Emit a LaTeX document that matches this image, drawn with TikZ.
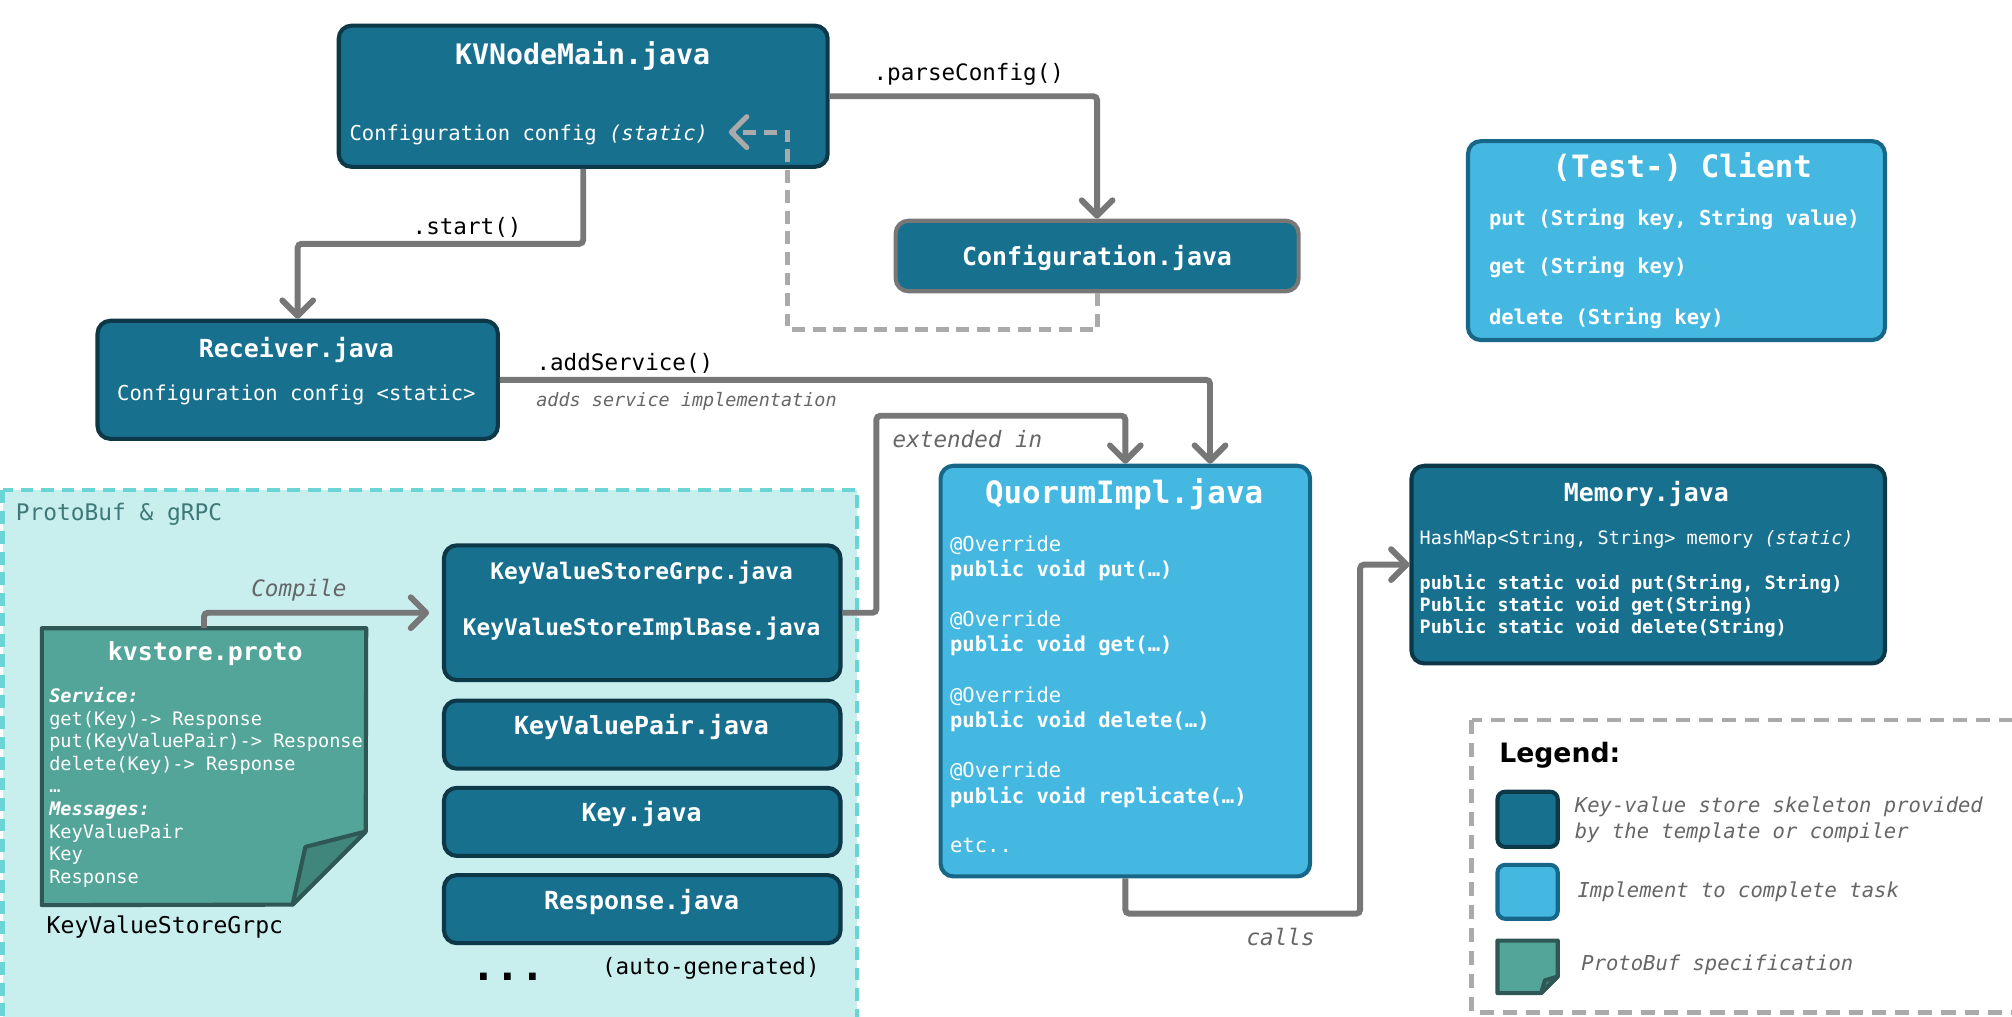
\documentclass[tikz,border=0pt]{standalone}
\usepackage{fontspec}
\setmainfont{DejaVu Sans Mono}
\newfontfamily\legendfont{DejaVu Sans}
\usetikzlibrary{arrows.meta,fit,calc}

\definecolor{darkfill}{HTML}{18708F}
\definecolor{darkline}{HTML}{0D3848}
\definecolor{lightfill}{HTML}{45B8E2}
\definecolor{lightline}{HTML}{176888}
\definecolor{notefill}{HTML}{53A59A}
\definecolor{noteline}{HTML}{2E5755}
\definecolor{notefold}{HTML}{40867C}
\definecolor{pbfill}{HTML}{C8EEEE}
\definecolor{pbline}{HTML}{6BD4D4}
\definecolor{pbtext}{HTML}{3E7878}
\definecolor{conngray}{HTML}{777777}
\definecolor{backgray}{HTML}{AAAAAA}
\definecolor{lblgray}{HTML}{666666}

\tikzset{
  box/.style={rounded corners=5pt, line width=1.6pt, inner sep=0pt},
  darkbox/.style={box, draw=darkline, fill=darkfill},
  lightbox/.style={box, draw=lightline, fill=lightfill},
  txt/.style={inner sep=0pt, text height=0.75em, text depth=0.2em},
  wtxt/.style={txt, text=white},
  ttl/.style={wtxt, yshift=-1pt},
  conn/.style={draw=conngray, line width=2.3pt, rounded corners=1.5pt, -{Straight Barb[length=6pt,width=12pt,round]}},
  backconn/.style={draw=backgray, line width=2pt, dash pattern=on 5pt off 3pt, -{Straight Barb[length=6pt,width=12pt,round]}},
  lbl/.style={txt, text=black, font=\fontsize{8.8}{10}\selectfont},
  ilbl/.style={txt, text=lblgray, font=\itshape\fontsize{8.8}{10}\selectfont},
  notepage/.style={draw=noteline, fill=notefill, line width=1.6pt, line join=round},
  notecorner/.style={draw=noteline, fill=notefold, line width=1.6pt, line join=round}
}

\begin{document}
\begin{tikzpicture}[x=0.5pt,y=-0.5pt]
\useasboundingbox (0,0) rectangle (1568,792);

% protobuf area and legend frame
\draw[pbline, fill=pbfill, line width=1.8pt, dash pattern=on 5pt off 3pt] (2,382) rectangle (668,800);
\node[txt, anchor=west, text=pbtext, font=\fontsize{8.9}{10}\selectfont] (pbtitle) at (12,400) {ProtoBuf \& gRPC};
\draw[backgray, line width=1.8pt, dash pattern=on 5.5pt off 3.5pt] (1147,561) rectangle (1580,789);

% main
\node[darkbox, fit={(264,20) (645,130)}] (kvmain) {};
\node[ttl, font=\bfseries\fontsize{11}{13}\selectfont] (kvmainname) at (454,43) {KVNodeMain.java};
\node[wtxt, anchor=west, font=\fontsize{8}{10}\selectfont] (kvmaincfg) at (272,104) {Configuration config \textit{(static)}};

\node[darkbox, draw=conngray, fit={(698,172) (1012,227)}] (cfg) {};
\node[ttl, font=\bfseries\fontsize{9.7}{12}\selectfont] (cfgname) at (cfg.center) {Configuration.java};

\node[darkbox, fit={(76,250) (388,342)}] (recv) {};
\node[ttl, font=\bfseries\fontsize{9.7}{12}\selectfont] (recvname) at (231,271) {Receiver.java};
\node[wtxt, font=\fontsize{8}{10}\selectfont] (recvcfg) at (231,307) {Configuration config <static>};

% client
\node[lightbox, fit={(1144,110) (1469,265)}] (client) {};
\node[ttl, font=\bfseries\fontsize{12}{14}\selectfont] (clientname) at (1311,131) {(Test-) Client};
\foreach \call/\y [count=\i] in {{put (String key, String value)}/170, {get (String key)}/208, {delete (String key)}/247}
  \node[wtxt, anchor=west, font=\bfseries\fontsize{8}{10}\selectfont] (clientcall\i) at (1160,\y) {\call};

% memory
\node[darkbox, fit={(1100,363) (1469,517)}] (mem) {};
\node[ttl, font=\bfseries\fontsize{9.7}{12}\selectfont] (memname) at (1283,383) {Memory.java};
\node[wtxt, anchor=west, font=\fontsize{7.2}{9}\selectfont] (memmap) at (1106,419) {HashMap<String, String> memory \textit{(static)}};
\foreach \call/\y [count=\i] in {{public static void put(String, String)}/454, {Public static void get(String)}/471, {Public static void delete(String)}/488}
  \node[wtxt, anchor=west, font=\bfseries\fontsize{7.2}{9}\selectfont] (memcall\i) at (1106,\y) {\call};

% quorum
\node[lightbox, fit={(733,363) (1021,683)}] (quorum) {};
\node[ttl, font=\bfseries\fontsize{12}{14}\selectfont] (quorumname) at (876,385) {QuorumImpl.java};
\foreach \meth [count=\i from 0] in {put, get, delete, replicate} {
  \node[wtxt, anchor=west, font=\fontsize{8}{10}\selectfont] (override\i) at (740,424+58.9*\i) {@Override};
  \node[wtxt, anchor=west, font=\bfseries\fontsize{8}{10}\selectfont] (method\i) at (740,443.6+58.9*\i) {public void \meth(…)};
}
\node[wtxt, anchor=west, font=\fontsize{8}{10}\selectfont] (etc) at (740,659) {etc..};

% proto file
\node[fit={(33,490) (285,705)}, inner sep=0pt] (note) {};
\draw[notepage] (note.north west) -- (note.north east) -- (285,648) -- (228,705) -- (note.south west) -- cycle;
\draw[notecorner] (228,705) -- (238,660) -- (285,648) -- cycle;
\node[ttl, font=\bfseries\fontsize{9.7}{12}\selectfont] (notename) at (160,507) {kvstore.proto};
\foreach \entry [count=\i from 0] in {\textbf{\textit{Service:}}, get(Key)-> Response, put(KeyValuePair)-> Response, delete(Key)-> Response, …, \textbf{\textit{Messages:}}, KeyValuePair, Key, Response}
  \node[wtxt, anchor=west, font=\fontsize{7.25}{9}\selectfont] (noteline\i) at (38,542+17.6*\i) {\entry};
\node[txt, anchor=west, font=\fontsize{9}{11}\selectfont] (grpcfile) at (36,722) {KeyValueStoreGrpc};

% generated
\node[darkbox, fit={(346,425) (655,530)}] (grpc) {};
\node[ttl, font=\bfseries\fontsize{8.9}{11}\selectfont] (grpcname) at (500,444) {KeyValueStoreGrpc.java};
\node[ttl, font=\bfseries\fontsize{8.9}{11}\selectfont] (implbase) at (500,488) {KeyValueStoreImplBase.java};
\foreach \cls/\ytop [count=\i] in {KeyValuePair.java/546, Key.java/614, Response.java/682} {
  \node[darkbox, fit={(346,\ytop) (655,\ytop+53)}] (gen\i) {};
  \node[ttl, font=\bfseries\fontsize{9.7}{12}\selectfont] (genname\i) at (500,\ytop+19) {\cls};
}
\node[inner sep=0pt, font=\bfseries\fontsize{16}{18}\selectfont, anchor=base] (moredots) at (396,764) {...};
\node[txt, font=\fontsize{8.8}{10}\selectfont] (autogen) at (554,754) {(auto-generated)};

% legend
\node[txt, anchor=west, font=\legendfont\bfseries\fontsize{10.4}{12}\selectfont] (legtitle) at (1168,589) {Legend:};
\draw[darkbox, rounded corners=3pt] (1167,617) rectangle (1214,660);
\node[ilbl, anchor=west, font=\itshape\fontsize{8}{10}\selectfont] (legdark) at (1227,628) {Key-value store skeleton provided};
\node[ilbl, anchor=west, font=\itshape\fontsize{8}{10}\selectfont] (legdarkb) at (1227,648) {by the template or compiler};
\draw[lightbox, rounded corners=3pt] (1167,674) rectangle (1214,716);
\node[ilbl, anchor=west, font=\itshape\fontsize{8}{10}\selectfont] (leglight) at (1229,694) {Implement to complete task};
\draw[notepage] (1167,733) -- (1214,733) -- (1214,761) -- (1201,774) -- (1167,774) -- cycle;
\draw[notecorner] (1201,774) -- (1204,764) -- (1214,761) -- cycle;
\node[ilbl, anchor=west, font=\itshape\fontsize{8}{10}\selectfont] (legproto) at (1232,751) {ProtoBuf specification};

% connectors
\draw[conn] (kvmain.east) -| (cfg.north);
\draw[conn] (kvmain.south) |- ($(kvmain.south)!0.5!(recv.north)$) -| (recv.north);
\coordinate (cfgturn) at (614,257);
\coordinate (cfgtip) at (568,103);
\draw[backconn] (cfg.south) |- (cfgturn) |- (cfgtip);
\draw[conn] (recv.east) -| ($(quorum.north)+(66,0)$);
\coordinate (extturn) at (683,324);
\draw[conn] (grpc.east) -| (extturn) -| (quorum.north);
\coordinate (callturn) at (1060,712);
\draw[conn] (quorum.south) |- (callturn) |- (mem.west);
\draw[conn, shorten >=5pt] (note.north) |- (grpc.west);

\node[lbl] (parselbl) at (755,57) {.parseConfig()};
\node[lbl] (startlbl) at (364,177) {.start()};
\node[lbl] (addlbl) at (487,283) {.addService()};
\node[ilbl, font=\itshape\fontsize{7.2}{9}\selectfont] (addnote) at (535,311) {adds service implementation};
\node[ilbl] (extlbl) at (754,343) {extended in};
\node[ilbl] (callslbl) at (998,731) {calls};
\node[ilbl] (compilelbl) at (233,459) {Compile};
\end{tikzpicture}
\end{document}
